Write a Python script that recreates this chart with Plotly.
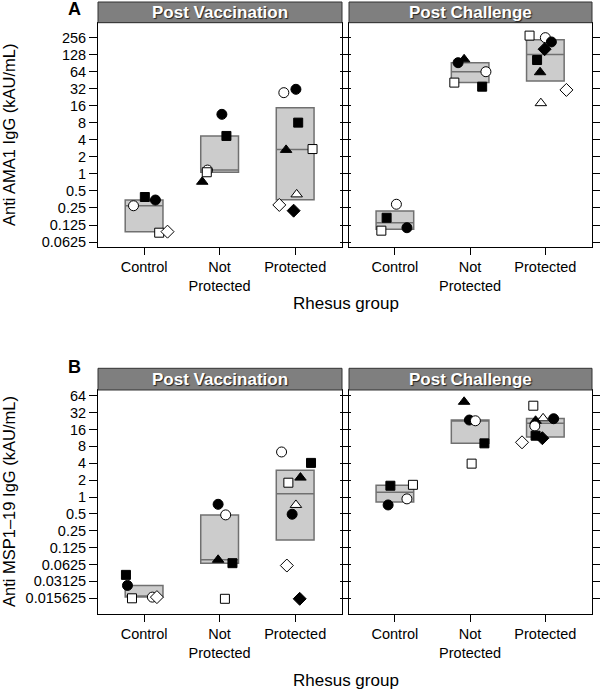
import numpy as np
import plotly.graph_objects as go

W, H = 600, 689

CATEGORIES = ["Control", "Not<br>Protected", "Protected"]
PHASES = ["Post Vaccination", "Post Challenge"]
X_TITLE = "Rhesus group"
Y_TITLE_A = "Anti AMA1 IgG (kAU/mL)"
Y_TITLE_B = "Anti MSP1\u201319 IgG (kAU/mL)"

TICKS_A = [0.0625, 0.125, 0.25, 0.5, 1, 2, 4, 8, 16, 32, 64, 128, 256]
TICKTEXT_A = ["0.0625", "0.125", "0.25", "0.5", "1", "2", "4", "8", "16", "32", "64", "128", "256"]
TICKS_B = [0.015625, 0.03125, 0.0625, 0.125, 0.25, 0.5, 1, 2, 4, 8, 16, 32, 64]
TICKTEXT_B = ["0.015625", "0.03125", "0.0625", "0.125", "0.25", "0.5", "1", "2", "4", "8", "16", "32", "64"]

# marker keys: first letter o=open / f=filled, second c=circle s=square d=diamond t=triangle
# ---------- Panel A : AMA1, post vaccination ----------
A_VAC_CTRL = [0.274, 0.391, 0.346, 0.0915, 0.0954]
A_VAC_CTRL_MK = ["oc", "fs", "fc", "os", "od"]
A_VAC_CTRL_JIT = [-0.14, 0.01, 0.15, 0.20, 0.31]
A_VAC_NP = [11.3, 4.69, 1.17, 1.07, 0.727]
A_VAC_NP_MK = ["fc", "fs", "oc", "os", "ft"]
A_VAC_NP_JIT = [0.03, 0.09, -0.16, -0.17, -0.23]
A_VAC_PR = [27.3, 31.3, 8.06, 2.66, 2.75, 0.435, 0.283, 0.224]
A_VAC_PR_MK = ["oc", "fc", "fs", "ft", "os", "ot", "od", "fd"]
A_VAC_PR_JIT = [-0.15, 0.01, 0.04, -0.12, 0.23, 0.02, -0.21, -0.02]
# ---------- Panel A : AMA1, post challenge ----------
A_CH_CTRL = [0.291, 0.168, 0.112, 0.0994]
A_CH_CTRL_MK = ["oc", "fs", "fc", "os"]
A_CH_CTRL_JIT = [0.02, -0.11, 0.16, -0.18]
A_CH_NP = [92.4, 106, 64, 41.1, 34.8]
A_CH_NP_MK = ["fc", "ft", "oc", "os", "fs"]
A_CH_NP_JIT = [-0.16, -0.08, 0.21, -0.21, 0.16]
A_CH_PR = [278, 256, 215, 160, 103, 62.7, 30.5, 17.8]
A_CH_PR_MK = ["os", "oc", "fc", "fd", "fs", "ft", "od", "ot"]
A_CH_PR_JIT = [-0.21, 0.0, 0.08, -0.01, -0.11, -0.07, 0.28, -0.06]
# ---------- Panel B : MSP1-19, post vaccination ----------
B_VAC_CTRL = [0.0409, 0.0265, 0.015625, 0.0164, 0.0164]
B_VAC_CTRL_MK = ["fs", "fc", "os", "oc", "od"]
B_VAC_CTRL_JIT = [-0.24, -0.22, -0.16, 0.11, 0.17]
B_VAC_NP = [0.742, 0.480, 0.0759, 0.0661, 0.0153]
B_VAC_NP_MK = ["fc", "oc", "ft", "fs", "os"]
B_VAC_NP_JIT = [-0.02, 0.08, -0.02, 0.17, 0.07]
B_VAC_PR = [6.36, 4.06, 2.22, 1.80, 0.722, 0.493, 0.0600, 0.0153]
B_VAC_PR_MK = ["oc", "fs", "ft", "os", "ot", "fc", "od", "fd"]
B_VAC_PR_JIT = [-0.18, 0.21, 0.07, -0.09, 0.01, -0.04, -0.11, 0.06]
# ---------- Panel B : MSP1-19, post challenge ----------
B_CH_CTRL = [1.59, 1.65, 0.927, 0.722]
B_CH_CTRL_MK = ["fs", "os", "oc", "fc"]
B_CH_CTRL_JIT = [-0.06, 0.24, 0.16, -0.09]
B_CH_NP = [49.9, 23.6, 22.9, 9.06, 3.94]
B_CH_NP_MK = ["ft", "fc", "oc", "fs", "os"]
B_CH_NP_JIT = [-0.08, -0.01, 0.07, 0.19, 0.02]
B_CH_PR = [42.5, 24.9, 25.3, 22.9, 18.5, 12.4, 11.2, 9.45]
B_CH_PR_MK = ["os", "fc", "ot", "ft", "oc", "fs", "fd", "od"]
B_CH_PR_JIT = [-0.16, 0.11, -0.03, -0.13, -0.14, -0.13, -0.04, -0.31]

FACETS = [
    ("", [(A_VAC_CTRL, A_VAC_CTRL_MK, A_VAC_CTRL_JIT), (A_VAC_NP, A_VAC_NP_MK, A_VAC_NP_JIT), (A_VAC_PR, A_VAC_PR_MK, A_VAC_PR_JIT)]),
    ("2", [(A_CH_CTRL, A_CH_CTRL_MK, A_CH_CTRL_JIT), (A_CH_NP, A_CH_NP_MK, A_CH_NP_JIT), (A_CH_PR, A_CH_PR_MK, A_CH_PR_JIT)]),
    ("3", [(B_VAC_CTRL, B_VAC_CTRL_MK, B_VAC_CTRL_JIT), (B_VAC_NP, B_VAC_NP_MK, B_VAC_NP_JIT), (B_VAC_PR, B_VAC_PR_MK, B_VAC_PR_JIT)]),
    ("4", [(B_CH_CTRL, B_CH_CTRL_MK, B_CH_CTRL_JIT), (B_CH_NP, B_CH_NP_MK, B_CH_NP_JIT), (B_CH_PR, B_CH_PR_MK, B_CH_PR_JIT)]),
]

SYMBOL = {"c": "circle", "s": "square", "d": "diamond", "t": "triangle-up"}
SIZE = {"c": 10, "s": 9, "d": 10, "t": 10}


def fivenum(vals):
    s = sorted(np.log2(vals))
    n = len(s)
    n4 = np.floor((n + 3) / 2) / 2
    d = [1, n4, (n + 1) / 2, n + 1 - n4, n]
    return [2 ** (0.5 * (s[int(np.floor(x)) - 1] + s[int(np.ceil(x)) - 1])) for x in d]


FONT = "Liberation Sans, Arial, sans-serif"
fig = go.Figure()

for suffix, groups in FACETS:
    xa, ya = "x" + suffix, "y" + suffix
    q1s, meds, q3s = [], [], []
    for vals, mk, jit in groups:
        f = fivenum(vals)
        q1s.append(f[1]); meds.append(f[2]); q3s.append(f[3])
    fig.add_trace(go.Box(
        x=[1, 2, 3], q1=q1s, median=meds, q3=q3s, lowerfence=q1s, upperfence=q3s,
        width=0.5, fillcolor="#cccccc", line=dict(color="#707070", width=1.5),
        boxpoints=False, xaxis=xa, yaxis=ya, showlegend=False, hoverinfo="skip"))
    for gi, (vals, mk, jit) in enumerate(groups):
        fig.add_trace(go.Scatter(
            x=[gi + 1 + j for j in jit], y=vals, mode="markers",
            marker=dict(symbol=[SYMBOL[k[1]] for k in mk],
                        size=[SIZE[k[1]] for k in mk],
                        color=["black" if k[0] == "f" else "white" for k in mk],
                        opacity=1,
                        line=dict(color="black", width=1)),
            xaxis=xa, yaxis=ya, showlegend=False, cliponaxis=False))

px = lambda v: v / W
py = lambda v: 1 - v / H
XL = [px(98), px(342)]
XR = [px(349), px(592)]
YA = [py(247), py(23)]
YB = [py(614), py(390)]

common_x = dict(range=[0.39, 3.62], tickvals=[1, 2, 3], ticktext=CATEGORIES,
                ticks="outside", ticklen=7, tickcolor="black", showline=True,
                linecolor="black", linewidth=1, mirror=True, showgrid=False,
                zeroline=False, automargin=False,
                tickfont=dict(family=FONT, size=14.5, color="black"))


def yax(domain, rng, tv, tt, side, labels):
    return dict(type="log", range=rng, domain=domain, tickvals=tv, ticktext=tt,
                side=side, showticklabels=labels, ticks="outside", ticklen=8,
                tickcolor="black", showline=True, linecolor="black", linewidth=1,
                mirror="ticks", showgrid=False, zeroline=False, automargin=False,
                tickfont=dict(family=FONT, size=14.5, color="black"))


RA = [np.log10(2) * -4.29, np.log10(2) * 8.86]
RB = [np.log10(2) * -6.93, np.log10(2) * 6.34]

fig.update_layout(
    width=W, height=H, margin=dict(l=0, r=0, t=0, b=0, autoexpand=False),
    plot_bgcolor="white", paper_bgcolor="white",
    xaxis=dict(common_x, domain=XL, anchor="y"),
    xaxis2=dict(common_x, domain=XR, anchor="y2"),
    xaxis3=dict(common_x, domain=XL, anchor="y3"),
    xaxis4=dict(common_x, domain=XR, anchor="y4"),
    yaxis=dict(yax(YA, RA, TICKS_A, TICKTEXT_A, "left", True), anchor="x"),
    yaxis2=dict(yax(YA, RA, TICKS_A, TICKTEXT_A, "right", False), anchor="x2"),
    yaxis3=dict(yax(YB, RB, TICKS_B, TICKTEXT_B, "left", True), anchor="x3"),
    yaxis4=dict(yax(YB, RB, TICKS_B, TICKTEXT_B, "right", False), anchor="x4"),
)

shapes, annos = [], []
for (y0, y1) in [(py(22.7), py(2)), (py(390), py(368.3))]:
    for xd, label in zip([XL, XR], PHASES):
        shapes.append(dict(type="rect", xref="paper", yref="paper", x0=xd[0], x1=xd[1],
                           y0=y0, y1=y1, fillcolor="#7f7f7f", line=dict(color="#333333", width=1),
                           layer="above"))
        annos.append(dict(xref="paper", yref="paper", x=(xd[0] + xd[1]) / 2, y=(y0 + y1) / 2,
                          text="<b>%s</b>" % label, showarrow=False, xanchor="center", yanchor="middle",
                          font=dict(family=FONT, size=17, color="white", shadow="1px 1px 1px #222")))

for label, ly, title, ty, xt in [("A", 9, Y_TITLE_A, 135, 303), ("B", 366.5, Y_TITLE_B, 502, 680)]:
    annos.append(dict(xref="paper", yref="paper", x=px(74), y=py(ly), text="<b>%s</b>" % label,
                      showarrow=False, xanchor="center", yanchor="middle",
                      font=dict(family=FONT, size=18, color="black")))
    annos.append(dict(xref="paper", yref="paper", x=px(9), y=py(ty), text=title, textangle=-90,
                      showarrow=False, xanchor="center", yanchor="middle",
                      font=dict(family=FONT, size=16.5, color="black")))
    annos.append(dict(xref="paper", yref="paper", x=px(346), y=py(xt), text=X_TITLE,
                      showarrow=False, xanchor="center", yanchor="middle",
                      font=dict(family=FONT, size=17, color="black")))

fig.update_layout(shapes=shapes, annotations=annos)
fig.write_html("out.html", config={"displayModeBar": False},
               post_script="document.body.style.margin='0';document.body.style.padding='0';"
                           "document.body.style.overflow='hidden';")
